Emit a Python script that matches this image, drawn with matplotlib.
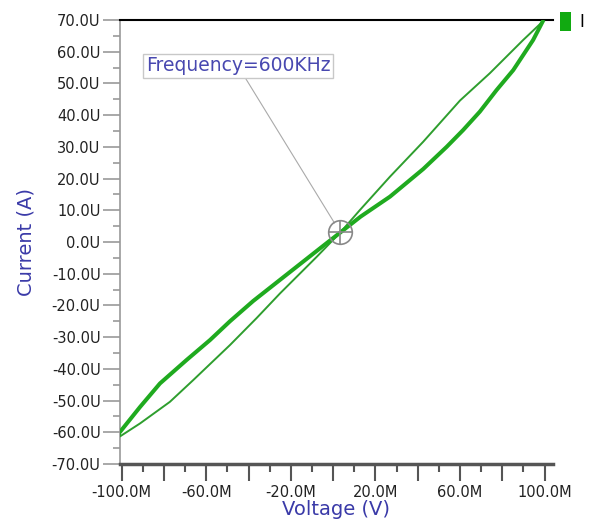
import numpy as np
import matplotlib
matplotlib.use("Agg")
import matplotlib.pyplot as plt
from matplotlib.ticker import MultipleLocator, FuncFormatter
from matplotlib.patches import Rectangle

# voltage in mV ("M"), current in uA ("U")
thick_v = [-100.8, -91.3, -81.9, -69.3, -58.2, -48.8, -37.8, -22.0, -6.2, 3.4,
           13.0, 26.9, 42.6, 53.7, 61.5, 69.4, 77.3, 85.2, 94.6, 99.1]
thick_i = [-59.9, -52.0, -44.6, -37.2, -30.9, -25.0, -18.6, -10.3, -2.0, 3.0,
           8.0, 14.3, 23.0, 30.0, 35.3, 41.1, 47.9, 54.2, 63.7, 69.5]

thin_v = [99.1, 89.9, 74.1, 60.0, 42.6, 26.9, 12.7, 3.4,
          -7.8, -25.1, -36.2, -48.8, -66.1, -77.2, -91.3, -100.8, -100.8]
thin_i = [69.5, 63.7, 53.2, 44.6, 31.6, 20.6, 10.1, 3.0,
          -4.7, -16.2, -24.0, -32.5, -43.5, -50.4, -57.2, -61.3, -59.9]

marker_v, marker_i = 3.4, 3.0
note_text = "Frequency=600KHz"

fig = plt.figure(figsize=(5.95, 5.25), dpi=100)
ax = fig.add_axes([120/595, 61/525, 433/595, 444/525])

ax.plot(thin_v, thin_i, color="#2e9e2e", lw=1.4, zorder=3)
ax.plot(thick_v, thick_i, color="#1faa1f", lw=2.9, zorder=4)

ax.set_xlim(-100.8, 104)
ax.set_ylim(-70, 70)

# spines
ax.spines["right"].set_visible(False)
ax.spines["top"].set_color("black")
ax.spines["top"].set_linewidth(1.5)
ax.spines["left"].set_color("#999999")
ax.spines["left"].set_linewidth(1.2)
ax.spines["bottom"].set_color("#555555")
ax.spines["bottom"].set_linewidth(2.5)

ax.xaxis.set_major_locator(MultipleLocator(20))
ax.xaxis.set_minor_locator(MultipleLocator(10))
ax.yaxis.set_major_locator(MultipleLocator(10))
ax.yaxis.set_minor_locator(MultipleLocator(5))

def xfmt(v, pos):
    if int(round(v)) % 40 == 0:
        return ""
    return "%.1fM" % v

def yfmt(v, pos):
    return "%.1fU" % (v + 0.0)

ax.xaxis.set_major_formatter(FuncFormatter(xfmt))
ax.yaxis.set_major_formatter(FuncFormatter(yfmt))

ax.tick_params(axis="y", which="major", length=12, width=1.2, color="#999999", pad=2, labelsize=10.5, labelcolor="#222222")
ax.tick_params(axis="y", which="minor", length=5, width=1.2, color="#999999")
ax.tick_params(axis="x", which="major", length=12, width=1.5, color="#555555", pad=3, labelsize=10.5, labelcolor="#222222")
ax.tick_params(axis="x", which="minor", length=6, width=1.5, color="#555555")

ax.set_xlabel("Voltage (V)", fontsize=14, color="#3a3aa8")
ax.xaxis.set_label_coords(0.5, -0.082)
ax.set_ylabel("Current (A)", fontsize=14, color="#3a3aa8")
ax.yaxis.set_label_coords(-0.195, 0.5)

# marker + annotation
ax.plot([marker_v], [marker_i], marker="o", ms=17, mfc="none", mec="#888888", mew=1.2, zorder=5)
ax.plot([marker_v], [marker_i], marker="+", ms=17, mec="#888888", mew=1.2, zorder=5)
ax.annotate(note_text, xy=(marker_v, marker_i), xytext=(-45, 55.5),
            ha="center", va="center", fontsize=13.5, color="#4848b0",
            bbox=dict(boxstyle="square,pad=0.15", fc="white", ec="#c8c8c8", lw=1),
            arrowprops=dict(arrowstyle="-", color="#aaaaaa", lw=0.8, shrinkA=0, shrinkB=8))

# legend swatch at top right
fig.patches.append(Rectangle((560/595, (525-31)/525), 11/595, 19/525,
                             transform=fig.transFigure, fc="#11aa11", ec="none"))
fig.text(582/595, (525-22)/525, "I", fontsize=12, color="black", ha="center", va="center")

fig.savefig("out.png", dpi=100)
